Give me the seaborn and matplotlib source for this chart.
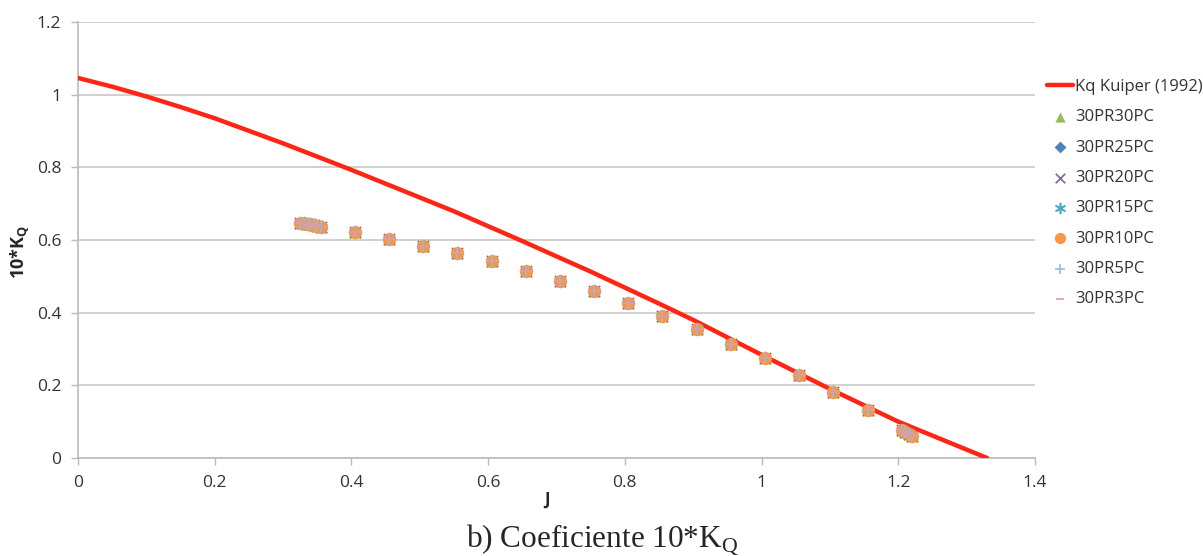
import numpy as np
import pandas as pd
import seaborn as sns
import matplotlib.pyplot as plt

# Kuiper (1992) reference curve
j_kuiper = [0.0, 0.05, 0.1, 0.15, 0.2, 0.3, 0.4, 0.45, 0.55, 0.65, 0.75, 0.85, 0.9, 1.0, 1.1, 1.2, 1.33]
kq_kuiper = [1.046, 1.022, 0.995, 0.966, 0.935, 0.866, 0.793, 0.755, 0.679, 0.597, 0.513, 0.425,
             0.38, 0.284, 0.19, 0.10, 0.0]

# measured points (all series lie on top of each other)
j_pts = [0.325, 0.33, 0.335, 0.34, 0.345, 0.35, 0.355, 0.405, 0.455, 0.505, 0.555, 0.605,
         0.655, 0.705, 0.755, 0.805, 0.855, 0.905, 0.955, 1.005, 1.055, 1.105, 1.155,
         1.205, 1.21, 1.215, 1.22]
kq_pts = [0.648, 0.646, 0.645, 0.643, 0.641, 0.639, 0.637, 0.622, 0.603, 0.584, 0.564, 0.541,
          0.515, 0.488, 0.46, 0.427, 0.392, 0.354, 0.314, 0.274, 0.229, 0.181, 0.131,
          0.076, 0.071, 0.066, 0.061]

series_names = ["30PR30PC", "30PR25PC", "30PR20PC", "30PR15PC", "30PR10PC", "30PR5PC", "30PR3PC"]
series_j = [j_pts] * 7
series_kq = [kq_pts] * 7

sns.set_style("white")
plt.rcParams['font.family'] = ['Open Sans', 'DejaVu Sans']

fig = plt.figure(figsize=(12.03, 5.56), dpi=100)
ax = fig.add_axes([78 / 1203, 1 - 458 / 556, (1035 - 78) / 1203, (458 - 22) / 556])

kuiper = pd.DataFrame({"J": j_kuiper, "Kq": kq_kuiper})
sns.lineplot(data=kuiper, x="J", y="Kq", ax=ax, color="#FF2414", linewidth=3.2,
             label="Kq Kuiper (1992)", zorder=3)

styles = [
    dict(marker="^", color="#9BBB59", s=75),
    dict(marker="D", color="#4F81BD", s=50),
    dict(marker="x", color="#8064A2", s=65),
    dict(marker=(6, 2, 0), color="#4BACC6", s=70),
    dict(marker="o", color="#F79646", s=90),
    dict(marker="+", color="#9DB8E0", s=85),
    dict(marker="_", color="#E29A9A", s=45),
]
for name, xs, ys, st in zip(series_names, series_j, series_kq, styles):
    df = pd.DataFrame({"J": xs, "Kq": ys})
    sns.scatterplot(data=df, x="J", y="Kq", ax=ax, marker=st["marker"], color=st["color"],
                    s=st["s"], linewidth=1.2 if st["marker"] in ("x", "+", "_", (6, 2, 0)) else 0,
                    label=name, zorder=4)

ax.set_xlim(0, 1.4)
ax.set_ylim(0, 1.2)
ax.set_xticks(np.arange(0, 1.41, 0.2))
ax.set_yticks(np.arange(0, 1.21, 0.2))
ax.set_xticklabels(["0", "0.2", "0.4", "0.6", "0.8", "1", "1.2", "1.4"])
ax.set_yticklabels(["0", "0.2", "0.4", "0.6", "0.8", "1", "1.2"])
ax.tick_params(axis="both", labelsize=12.5, colors="#333333", length=5, width=1,
               color="#BBBBBB", direction="out", bottom=True, left=True, pad=7)
ax.yaxis.grid(True, color="#C8C8C8", linewidth=1.2)
ax.xaxis.grid(False)
for side in ["top", "right"]:
    ax.spines[side].set_visible(False)
for side in ["left", "bottom"]:
    ax.spines[side].set_color("#BBBBBB")
    ax.spines[side].set_linewidth(1.2)

ax.set_xlabel("J", fontsize=12, fontweight="bold")
ax.xaxis.set_label_coords((547 - 78) / 957, -(491 - 458) / 436)
ax.set_ylabel("10*K$_\\mathregular{Q}$", fontsize=13, fontweight="bold")
ax.yaxis.set_label_coords((31 - 78) / 957, (458 - 252) / 436)

handles, labels = ax.get_legend_handles_labels()
ax.legend_.remove()
fig.legend(handles, labels, loc="upper left", bbox_to_anchor=(1047 / 1203, 1 - 79 / 556),
           frameon=False, fontsize=12, labelspacing=0.86, handlelength=1.55, borderpad=0,
           borderaxespad=0, handletextpad=0.15, markerscale=0.85, labelcolor="#333333")

fig.text(602 / 1203, 1 - 540 / 556, "b) Coeficiente 10*K$_\\mathregular{Q}$", ha="center",
         va="center", fontsize=22.5, family=["Liberation Serif", "DejaVu Serif"])

fig.savefig("out.png", dpi=100)
